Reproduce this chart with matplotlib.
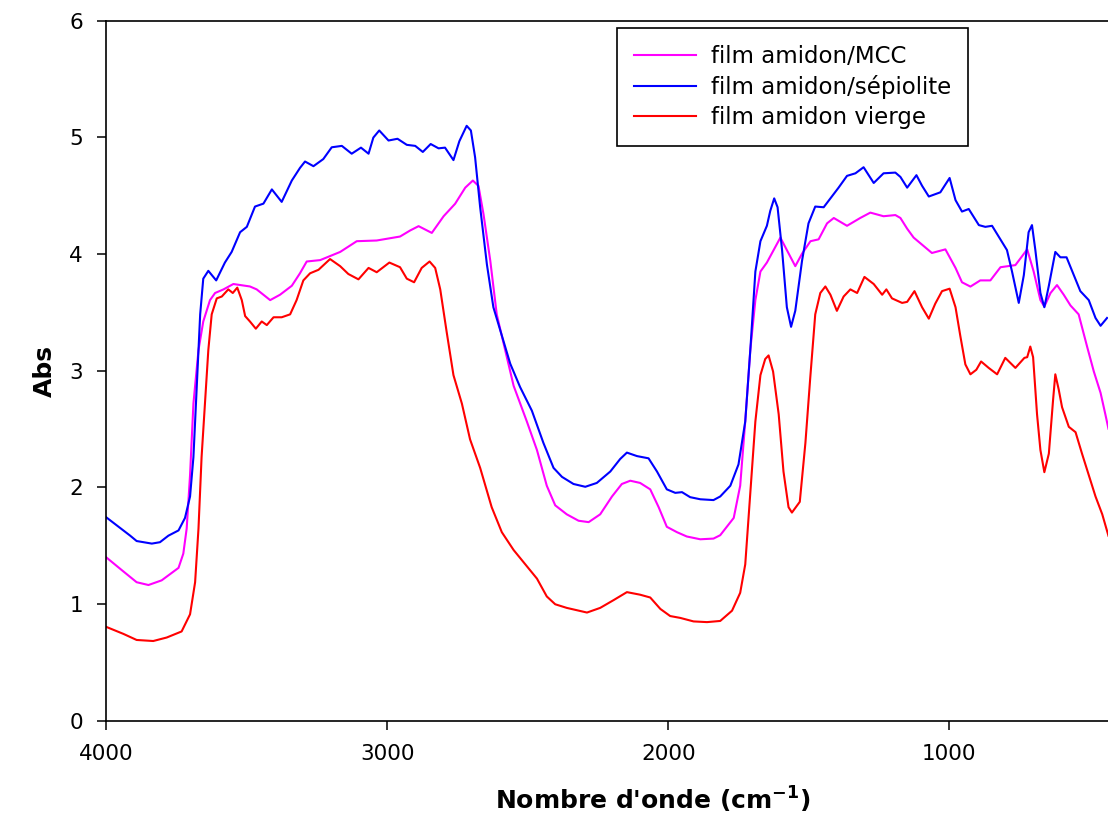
import matplotlib
matplotlib.use("Agg")
import matplotlib.pyplot as plt

plt.rcParams['font.family'] = ['DejaVu Sans']
plt.rcParams['mathtext.fontset'] = 'dejavusans'

# ---- data (wavenumber cm-1, absorbance) ----
sep_x = [4000, 3914, 3891, 3837, 3808, 3778, 3742, 3719, 3701, 3689, 3677, 3665, 3654, 3636,
         3608, 3577, 3553, 3523, 3499, 3470, 3440, 3410, 3375, 3339, 3310, 3292, 3262, 3227,
         3197, 3161, 3126, 3093, 3066, 3049, 3028, 2995, 2963, 2930, 2900, 2873, 2845, 2817,
         2794, 2764, 2743, 2717, 2702, 2687, 2669, 2645, 2622, 2598, 2562, 2527, 2485, 2444,
         2408, 2378, 2337, 2295, 2254, 2206, 2171, 2147, 2111, 2070, 2040, 2005, 1975, 1951,
         1922, 1886, 1839, 1815, 1779, 1750, 1726, 1708, 1690, 1672, 1649, 1637, 1623, 1611,
         1595, 1578, 1563, 1548, 1524, 1501, 1477, 1447, 1423, 1394, 1364, 1334, 1305, 1269,
         1234, 1192, 1174, 1150, 1117, 1097, 1073, 1032, 999, 978, 955, 931, 895, 872, 848,
         818, 795, 777, 753, 735, 718, 706, 694, 676, 662, 646, 623, 605, 583, 557, 534, 504,
         480, 462, 439]
sep_y = [1.745, 1.586, 1.540, 1.518, 1.530, 1.586, 1.631, 1.738, 1.922, 2.259, 2.871, 3.483, 3.789, 3.856,
         3.774, 3.927, 4.018, 4.187, 4.233, 4.407, 4.432, 4.554, 4.447, 4.630, 4.738, 4.793, 4.753, 4.814,
         4.915, 4.927, 4.860, 4.912, 4.860, 4.998, 5.059, 4.973, 4.988, 4.936, 4.927, 4.875, 4.943, 4.906,
         4.912, 4.805, 4.967, 5.099, 5.059, 4.829, 4.401, 3.911, 3.544, 3.350, 3.060, 2.860, 2.657, 2.381,
         2.167, 2.090, 2.029, 2.005, 2.038, 2.136, 2.243, 2.298, 2.268, 2.249, 2.136, 1.983, 1.953, 1.959,
         1.916, 1.898, 1.891, 1.922, 2.014, 2.197, 2.565, 3.177, 3.850, 4.110, 4.242, 4.370, 4.477, 4.401,
         4.034, 3.544, 3.376, 3.514, 3.942, 4.263, 4.407, 4.401, 4.477, 4.569, 4.670, 4.692, 4.744, 4.609,
         4.692, 4.698, 4.661, 4.569, 4.676, 4.585, 4.493, 4.529, 4.652, 4.462, 4.364, 4.386, 4.248, 4.233, 4.242,
         4.125, 4.034, 3.850, 3.581, 3.819, 4.187, 4.248, 4.034, 3.666, 3.544, 3.728, 4.018, 3.972, 3.972, 3.819, 3.682, 3.605,
         3.452, 3.385, 3.452]

mcc_x = [4000, 3938, 3891, 3849, 3802, 3742, 3725, 3713, 3701, 3689, 3671, 3654, 3630, 3612,
         3582, 3547, 3488, 3464, 3416, 3381, 3339, 3310, 3286, 3238, 3167, 3108, 3037, 2954,
         2918, 2888, 2841, 2799, 2758, 2722, 2695, 2675, 2657, 2633, 2610, 2598, 2550, 2503,
         2467, 2432, 2402, 2361, 2319, 2283, 2242, 2200, 2165, 2135, 2100, 2064, 2034, 2005,
         1969, 1934, 1886, 1839, 1815, 1767, 1744, 1726, 1708, 1690, 1672, 1649, 1625, 1601,
         1578, 1548, 1524, 1494, 1465, 1435, 1411, 1364, 1317, 1281, 1234, 1192, 1174, 1150,
         1127, 1062, 1014, 978, 955, 925, 890, 854, 818, 765, 723, 700, 676, 662, 640, 617,
         593, 569, 540, 510, 486, 462, 445, 434]
mcc_y = [1.402, 1.279, 1.187, 1.163, 1.203, 1.310, 1.432, 1.647, 2.106, 2.718, 3.177, 3.422, 3.605, 3.666,
         3.697, 3.743, 3.722, 3.697, 3.605, 3.651, 3.728, 3.835, 3.936, 3.948, 4.018, 4.110, 4.116, 4.150,
         4.202, 4.239, 4.181, 4.324, 4.431, 4.569, 4.630, 4.584, 4.340, 3.942, 3.483, 3.360, 2.871, 2.565,
         2.320, 2.014, 1.846, 1.769, 1.714, 1.702, 1.769, 1.922, 2.029, 2.057, 2.038, 1.983, 1.830, 1.662,
         1.616, 1.579, 1.555, 1.561, 1.590, 1.738, 2.014, 2.565, 3.177, 3.605, 3.850, 3.927, 4.034, 4.141,
         4.034, 3.896, 4.003, 4.110, 4.126, 4.263, 4.309, 4.242, 4.309, 4.355, 4.324, 4.334, 4.309, 4.217,
         4.141, 4.009, 4.040, 3.881, 3.758, 3.721, 3.774, 3.774, 3.887, 3.905, 4.040, 3.850, 3.605, 3.550, 3.666, 3.734,
         3.651, 3.559, 3.483, 3.207, 2.993, 2.810, 2.626, 2.503]

vie_x = [4000, 3938, 3891, 3832, 3784, 3731, 3701, 3683, 3671, 3660, 3648, 3636, 3624, 3606,
         3588, 3565, 3549, 3533, 3517, 3505, 3488, 3467, 3446, 3428, 3404, 3375, 3345, 3322,
         3298, 3274, 3244, 3203, 3167, 3138, 3102, 3066, 3037, 2992, 2954, 2930, 2904, 2877,
         2849, 2829, 2811, 2788, 2764, 2734, 2705, 2669, 2628, 2592, 2550, 2503, 2467, 2432,
         2402, 2361, 2289, 2242, 2194, 2147, 2100, 2064, 2028, 1993, 1957, 1910, 1862, 1815,
         1773, 1744, 1726, 1708, 1690, 1672, 1655, 1643, 1627, 1607, 1590, 1572, 1560, 1532,
         1512, 1495, 1477, 1459, 1441, 1423, 1400, 1376, 1352, 1328, 1302, 1269, 1239, 1224,
         1204, 1168, 1150, 1124, 1097, 1073, 1050, 1026, 999, 978, 961, 943, 925, 904, 887,
         860, 830, 801, 765, 733, 723, 712, 702, 688, 676, 662, 646, 631, 623, 611, 599, 575,
         551, 528, 504, 480, 456, 434]
vie_y = [0.805, 0.744, 0.692, 0.683, 0.713, 0.765, 0.912, 1.187, 1.647, 2.259, 2.718, 3.177, 3.483, 3.620,
         3.636, 3.697, 3.666, 3.712, 3.605, 3.468, 3.422, 3.360, 3.422, 3.391, 3.458, 3.458, 3.483, 3.605,
         3.774, 3.835, 3.865, 3.957, 3.896, 3.829, 3.783, 3.881, 3.844, 3.927, 3.887, 3.789, 3.758, 3.881,
         3.936, 3.881, 3.697, 3.330, 2.962, 2.718, 2.412, 2.167, 1.830, 1.616, 1.463, 1.325, 1.218, 1.065,
         0.998, 0.967, 0.927, 0.967, 1.034, 1.102, 1.080, 1.056, 0.958, 0.897, 0.881, 0.851, 0.845, 0.855,
         0.943, 1.096, 1.340, 1.953, 2.565, 2.962, 3.100, 3.131, 2.993, 2.626, 2.136, 1.830, 1.784, 1.876,
         2.381, 2.932, 3.483, 3.666, 3.722, 3.651, 3.513, 3.636, 3.697, 3.666, 3.804, 3.743, 3.651, 3.697,
         3.620, 3.581, 3.590, 3.682, 3.544, 3.446, 3.575, 3.682, 3.703, 3.544, 3.299, 3.054, 2.969, 3.008, 3.079,
         3.024, 2.969, 3.110, 3.024, 3.110, 3.116, 3.207, 3.116, 2.626, 2.320, 2.130, 2.289, 2.748, 2.969, 2.840, 2.687, 2.519,
         2.473, 2.289, 2.106, 1.922, 1.769, 1.585]

labels = ["film amidon/MCC", "film amidon/sépiolite", "film amidon vierge"]
colors = ["#FF00FF", "#0000FF", "#FF0000"]
xticks = [4000, 3000, 2000, 1000]
yticks = [0, 1, 2, 3, 4, 5, 6]

W, H = 1108, 816
fig = plt.figure(figsize=(W / 100, H / 100), dpi=100)
ax = fig.add_axes([106 / W, (H - 720.7) / H, 1012 / W, 700 / H])

for xs, ys, lab, col in zip([mcc_x, sep_x, vie_x], [mcc_y, sep_y, vie_y], labels, colors):
    ax.plot(xs, ys, color=col, lw=1.5, label=lab)

ax.set_xlim(4000, 400)
ax.set_ylim(0, 6)
ax.set_xticks(xticks)
ax.set_yticks(yticks)
ax.tick_params(direction='out', length=6.5, width=1.1, labelsize=15.5, pad=10,
               top=False, right=False)
for s in ax.spines.values():
    s.set_linewidth(1.2)

ax.set_xlabel(r"Nombre d'onde (cm$^{\mathbf{-1}}$)", fontsize=18, fontweight='bold')
ax.set_ylabel("Abs", fontsize=18, fontweight='bold')
ax.xaxis.set_label_coords(0.54, -0.113)
ax.yaxis.set_label_coords(-0.060, 0.50)
ax.xaxis.label.set_va('center')
ax.yaxis.label.set_va('center')

leg = ax.legend(loc='upper left', bbox_to_anchor=(0.505, 0.99), fontsize=16.5,
                frameon=True, fancybox=False, framealpha=1, edgecolor='black',
                handlelength=2.7, handletextpad=0.65, borderpad=0.75, labelspacing=0.3,
                borderaxespad=0)
leg.get_frame().set_linewidth(1.2)

fig.savefig("out.png", dpi=100)
